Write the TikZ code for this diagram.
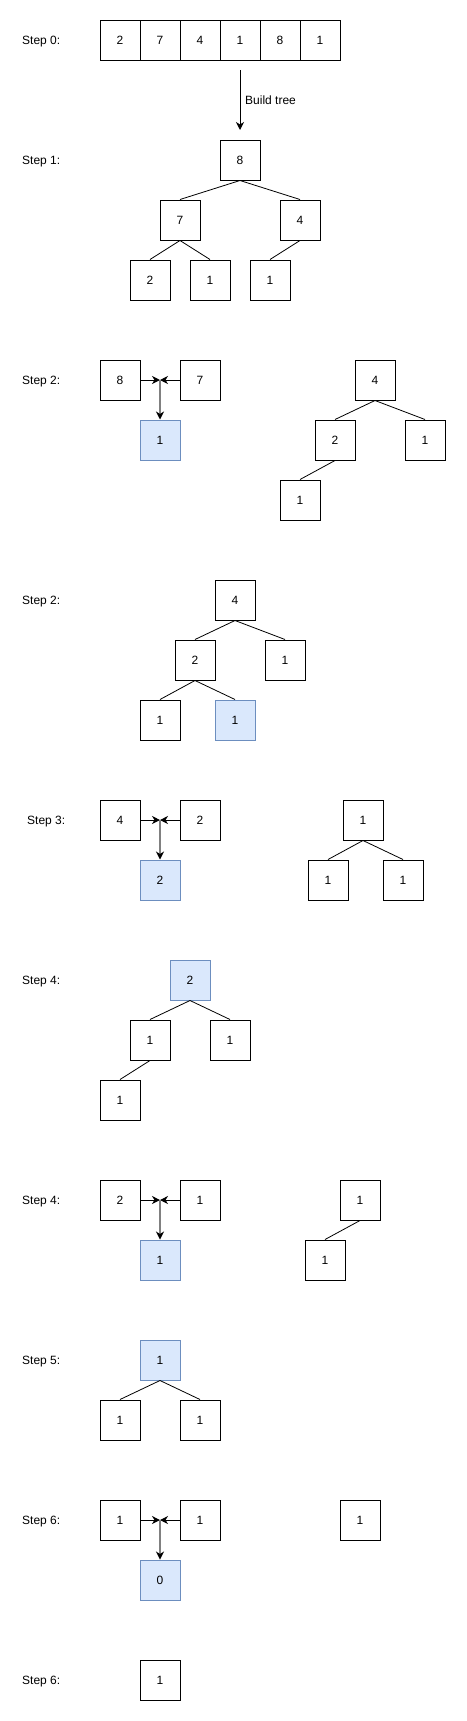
\documentclass[tikz,border=0pt]{standalone}
\usepackage{fontspec}
\setmainfont{Liberation Sans}
\usetikzlibrary{arrows.meta}
\definecolor{hlfill}{HTML}{DAE8FC}
\definecolor{hldraw}{HTML}{6C8EBF}
\begin{document}
\begin{tikzpicture}[x=1pt,y=-1pt,
  every node/.style={font=\fontsize{12pt}{14pt}\selectfont},
  cell/.style={draw=black,line width=1pt,fill=white,minimum size=40pt,inner sep=0pt},
  hl/.style={cell,draw=hldraw,fill=hlfill},
  lbl/.style={anchor=base west,inner sep=0pt},
  edge/.style={draw=black,line width=0.8pt},
  merge/.style={draw=black,line width=1pt,-{Stealth[length=8pt,width=8pt,inset=2.5pt]}},
  down/.style={draw=gray,line width=1.5pt,-{Stealth[length=8pt,width=8pt,inset=2.5pt,black]}}
]
\useasboundingbox (0,0) rectangle (466,1721);

% Step 0
\node[lbl] (l0) at (22,44.3) {Step 0:};
\node[cell] (a1) at (120,40) {2};
\node[cell] (a2) at (160,40) {7};
\node[cell] (a3) at (200,40) {4};
\node[cell] (a4) at (240,40) {1};
\node[cell] (a5) at (280,40) {8};
\node[cell] (a6) at (320,40) {1};
\coordinate (bs) at (240,70);
\coordinate (be) at (240,130);
\draw[line width=1pt,-{Stealth[length=8pt,width=8pt,inset=2.5pt]}] (bs) -- (be);
\node[lbl] (bt) at (245,104.3) {Build tree};

% Step 1
\node[lbl] (l1) at (22,164.3) {Step 1:};
\node[cell] (t1r) at (240,160) {8};
\node[cell] (t1a) at (180,220) {7};
\node[cell] (t1b) at (300,220) {4};
\node[cell] (t1c) at (150,280) {2};
\node[cell] (t1d) at (210,280) {1};
\node[cell] (t1e) at (270,280) {1};
\draw[edge] (t1r.south) -- (t1a.north);
\draw[edge] (t1r.south) -- (t1b.north);
\draw[edge] (t1a.south) -- (t1c.north);
\draw[edge] (t1a.south) -- (t1d.north);
\draw[edge] (t1b.south) -- (t1e.north);

% Step 2 (merge)
\node[lbl] (l2) at (22,384.3) {Step 2:};
\node[cell] (m2a) at (120,380) {8};
\node[cell] (m2b) at (200,380) {7};
\node[hl] (m2c) at (160,440) {1};
\coordinate (m2m) at (160,380);
\draw[merge] (m2a.east) -- (m2m);
\draw[merge] (m2b.west) -- (m2m);
\draw[down] (m2m) -- (m2c.north);
\node[cell] (t2r) at (375,380) {4};
\node[cell] (t2a) at (335,440) {2};
\node[cell] (t2b) at (425,440) {1};
\node[cell] (t2c) at (300,500) {1};
\draw[edge] (t2r.south) -- (t2a.north);
\draw[edge] (t2r.south) -- (t2b.north);
\draw[edge] (t2a.south) -- (t2c.north);

% Step 2 (tree)
\node[lbl] (l2b) at (22,604.3) {Step 2:};
\node[cell] (t3r) at (235,600) {4};
\node[cell] (t3a) at (195,660) {2};
\node[cell] (t3b) at (285,660) {1};
\node[cell] (t3c) at (160,720) {1};
\node[hl] (t3d) at (235,720) {1};
\draw[edge] (t3r.south) -- (t3a.north);
\draw[edge] (t3r.south) -- (t3b.north);
\draw[edge] (t3a.south) -- (t3c.north);
\draw[edge] (t3a.south) -- (t3d.north);

% Step 3
\node[lbl] (l3) at (27,824.3) {Step 3:};
\node[cell] (m3a) at (120,820) {4};
\node[cell] (m3b) at (200,820) {2};
\node[hl] (m3c) at (160,880) {2};
\coordinate (m3m) at (160,820);
\draw[merge] (m3a.east) -- (m3m);
\draw[merge] (m3b.west) -- (m3m);
\draw[down] (m3m) -- (m3c.north);
\node[cell] (t4r) at (363,820) {1};
\node[cell] (t4a) at (328,880) {1};
\node[cell] (t4b) at (403,880) {1};
\draw[edge] (t4r.south) -- (t4a.north);
\draw[edge] (t4r.south) -- (t4b.north);

% Step 4 (tree)
\node[lbl] (l4) at (22,984.3) {Step 4:};
\node[hl] (t5r) at (190,980) {2};
\node[cell] (t5a) at (150,1040) {1};
\node[cell] (t5b) at (230,1040) {1};
\node[cell] (t5c) at (120,1100) {1};
\draw[edge] (t5r.south) -- (t5a.north);
\draw[edge] (t5r.south) -- (t5b.north);
\draw[edge] (t5a.south) -- (t5c.north);

% Step 4 (merge)
\node[lbl] (l4b) at (22,1204.3) {Step 4:};
\node[cell] (m4a) at (120,1200) {2};
\node[cell] (m4b) at (200,1200) {1};
\node[hl] (m4c) at (160,1260) {1};
\coordinate (m4m) at (160,1200);
\draw[merge] (m4a.east) -- (m4m);
\draw[merge] (m4b.west) -- (m4m);
\draw[down] (m4m) -- (m4c.north);
\node[cell] (t6r) at (360,1200) {1};
\node[cell] (t6a) at (325,1260) {1};
\draw[edge] (t6r.south) -- (t6a.north);

% Step 5
\node[lbl] (l5) at (22,1364.3) {Step 5:};
\node[hl] (t7r) at (160,1360) {1};
\node[cell] (t7a) at (120,1420) {1};
\node[cell] (t7b) at (200,1420) {1};
\draw[edge] (t7r.south) -- (t7a.north);
\draw[edge] (t7r.south) -- (t7b.north);

% Step 6 (merge)
\node[lbl] (l6) at (22,1524.3) {Step 6:};
\node[cell] (m6a) at (120,1520) {1};
\node[cell] (m6b) at (200,1520) {1};
\node[hl] (m6c) at (160,1580) {0};
\coordinate (m6m) at (160,1520);
\draw[merge] (m6a.east) -- (m6m);
\draw[merge] (m6b.west) -- (m6m);
\draw[down] (m6m) -- (m6c.north);
\node[cell] (t8r) at (360,1520) {1};

% Step 6 (final)
\node[lbl] (l6b) at (22,1684.3) {Step 6:};
\node[cell] (f1) at (160,1680) {1};
\end{tikzpicture}
\end{document}
